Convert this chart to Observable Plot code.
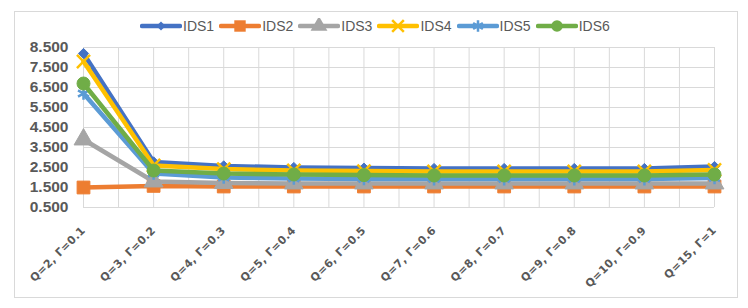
<!DOCTYPE html>
<html>
<head>
<meta charset="utf-8">
<script src="https://cdn.jsdelivr.net/npm/d3@7"></script>
<script src="https://cdn.jsdelivr.net/npm/@observablehq/plot@0.6"></script>
<style>
  html, body { margin: 0; padding: 0; background: #fff; }
  #wrap { position: relative; width: 748px; height: 308px; overflow: hidden; font-family: "Liberation Sans", Arial, sans-serif; }
  #frame { position: absolute; left: 14px; top: 11px; width: 722px; height: 285px; border: 1px solid #d9d9d9; pointer-events: none; z-index: 3; }
  #legend { position: absolute; left: 140px; top: 18px; display: flex; align-items: center; z-index: 2; }
  .item { display: flex; align-items: center; margin-right: 5px; }
  .item span { font-size: 14px; color: #595959; margin-left: 1px; line-height: 16px; }
  #chart { position: absolute; left: 0; top: 0; z-index: 1; }
  .xax text { letter-spacing: 0.3px; }
</style>
</head>
<body>
<div id="wrap">
  <div id="chart"></div>
  <div id="legend"></div>
  <div id="frame"></div>
</div>
<script>
const categories = ["Q=2, Γ=0.1", "Q=3, Γ=0.2", "Q=4, Γ=0.3", "Q=5, Γ=0.4", "Q=6, Γ=0.5",
                    "Q=7, Γ=0.6", "Q=8, Γ=0.7", "Q=9, Γ=0.8", "Q=10, Γ=0.9", "Q=15, Γ=1"];
const seriesNames = ["IDS1", "IDS2", "IDS3", "IDS4", "IDS5", "IDS6"];
const IDS1 = [8.20, 2.78, 2.58, 2.50, 2.47, 2.45, 2.45, 2.45, 2.45, 2.55];
const IDS2 = [1.50, 1.58, 1.55, 1.55, 1.55, 1.55, 1.55, 1.55, 1.55, 1.55];
const IDS3 = [3.90, 1.80, 1.72, 1.70, 1.70, 1.70, 1.70, 1.70, 1.70, 1.70];
const IDS4 = [7.80, 2.60, 2.42, 2.35, 2.32, 2.30, 2.30, 2.30, 2.30, 2.38];
const IDS5 = [6.20, 2.20, 2.00, 1.95, 1.93, 1.92, 1.92, 1.92, 1.92, 1.98];
const IDS6 = [6.70, 2.35, 2.20, 2.15, 2.12, 2.10, 2.10, 2.10, 2.10, 2.15];
const yTicks = [0.5, 1.5, 2.5, 3.5, 4.5, 5.5, 6.5, 7.5, 8.5];

const values = [IDS1, IDS2, IDS3, IDS4, IDS5, IDS6];
const colors = ["#4472C4", "#ED7D31", "#A5A5A5", "#FFC000", "#5B9BD5", "#70AD47"];
const symbols = ["diamond2", "square", "triangle", "times", "asterisk", "circle"];
const radii = [4.6, 7.2, 7, 6, 6, 6.5];
const filled = [true, true, true, false, false, true];

const rows = [];
seriesNames.forEach((s, k) => values[k].forEach((v, i) => rows.push({s, i, v})));

const gridX = d3.range(0, categories.length - 0.999, 0.5);

const marks = [
  Plot.ruleX(gridX, {x: d => d, stroke: "#d9d9d9", strokeWidth: 1}),
  Plot.ruleY(yTicks, {y: d => d, stroke: "#d9d9d9", strokeWidth: 1}),
  Plot.axisY({ticks: yTicks, tickFormat: d3.format(".3f"), tickSize: 0, tickPadding: 15,
              fontSize: 15.5, fontWeight: "bold", label: null}),
  Plot.axisX({ticks: d3.range(categories.length), tickFormat: i => categories[i], tickRotate: -45,
              tickSize: 0, tickPadding: 21, fontSize: 11, fontWeight: "bold", label: null,
              fontFamily: "'DejaVu Sans', Verdana, sans-serif", className: "xax"})
];
seriesNames.forEach((s, k) => {
  const d = rows.filter(r => r.s === s);
  marks.push(Plot.line(d, {x: "i", y: "v", stroke: colors[k], strokeWidth: 4.5, strokeLinejoin: "round", strokeLinecap: "round"}));
  if (filled[k]) {
    marks.push(Plot.dot(d, {x: "i", y: "v", symbol: symbols[k], r: radii[k], fill: colors[k], stroke: colors[k], strokeWidth: 1}));
  } else {
    marks.push(Plot.dot(d, {x: "i", y: "v", symbol: symbols[k], r: radii[k], fill: "none", stroke: colors[k], strokeWidth: 2.5}));
  }
});

const chart = Plot.plot({
  width: 748,
  height: 308,
  marginLeft: 83,
  marginRight: 34,
  marginTop: 47,
  marginBottom: 101,
  x: {type: "linear", domain: [0, categories.length - 1], axis: null},
  y: {domain: [0.5, 8.5], axis: null},
  style: {background: "transparent", color: "#595959", fontFamily: "'Liberation Sans', Arial, sans-serif", overflow: "visible"},
  marks
});
document.getElementById("chart").appendChild(chart);

// legend
const legend = document.getElementById("legend");
seriesNames.forEach((s, k) => {
  const item = document.createElement("div");
  item.className = "item";
  const sym = d3.symbol(d3["symbol" + {diamond2: "Diamond2", square: "Square", triangle: "Triangle", times: "Times", asterisk: "Asterisk", circle: "Circle"}[symbols[k]]], Math.PI * radii[k] * radii[k] * 0.8)();
  const svgNS = "http://www.w3.org/2000/svg";
  const svg = document.createElementNS(svgNS, "svg");
  svg.setAttribute("width", 42); svg.setAttribute("height", 16);
  const line = document.createElementNS(svgNS, "line");
  line.setAttribute("x1", 2); line.setAttribute("x2", 40); line.setAttribute("y1", 8); line.setAttribute("y2", 8);
  line.setAttribute("stroke", colors[k]); line.setAttribute("stroke-width", 4.5); line.setAttribute("stroke-linecap", "round");
  svg.appendChild(line);
  const p = document.createElementNS(svgNS, "path");
  p.setAttribute("d", sym); p.setAttribute("transform", "translate(21,8)");
  if (filled[k]) { p.setAttribute("fill", colors[k]); }
  else { p.setAttribute("fill", "none"); p.setAttribute("stroke", colors[k]); p.setAttribute("stroke-width", 2.5); }
  svg.appendChild(p);
  item.appendChild(svg);
  const t = document.createElement("span");
  t.textContent = s;
  item.appendChild(t);
  legend.appendChild(item);
});
</script>
</body>
</html>
